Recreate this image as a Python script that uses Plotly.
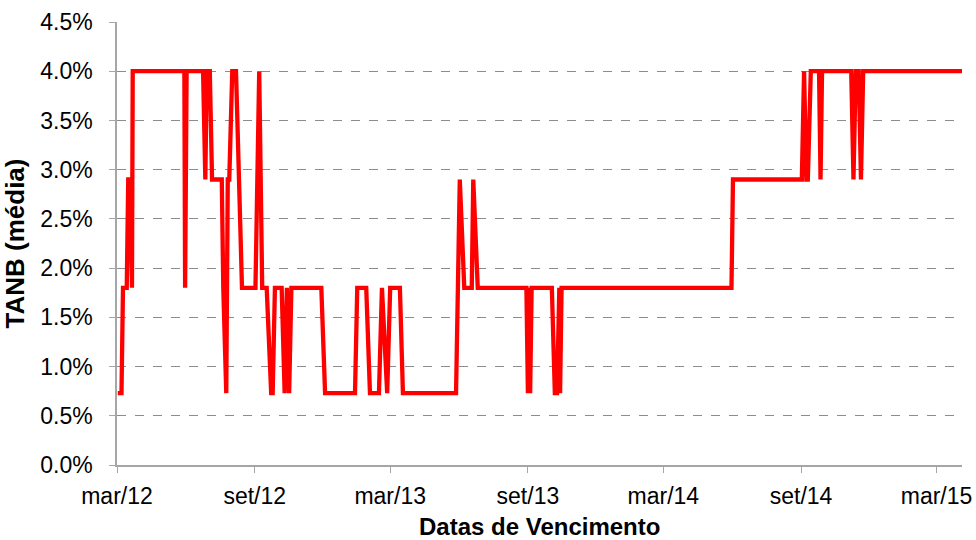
import plotly.graph_objects as go

dates = [
    "2012-03-02", "2012-03-07", "2012-03-09", "2012-03-14", "2012-03-16", "2012-03-18",
    "2012-03-21", "2012-03-22", "2012-05-30", "2012-05-31", "2012-06-02", "2012-06-24",
    "2012-06-27", "2012-06-29", "2012-07-03", "2012-07-06", "2012-07-19", "2012-07-21",
    "2012-07-25", "2012-07-27", "2012-07-29", "2012-08-02", "2012-08-07", "2012-08-10",
    "2012-08-11", "2012-08-15", "2012-09-02", "2012-09-07", "2012-09-11", "2012-09-17",
    "2012-09-23", "2012-09-25", "2012-09-28", "2012-10-07", "2012-10-11", "2012-10-14",
    "2012-10-17", "2012-10-20", "2012-11-29", "2012-12-04", "2013-01-13", "2013-01-16",
    "2013-01-28", "2013-02-02", "2013-02-14", "2013-02-18", "2013-02-25", "2013-03-01",
    "2013-03-14", "2013-03-18", "2013-05-28", "2013-06-02", "2013-06-08", "2013-06-18",
    "2013-06-20", "2013-06-26", "2013-08-30", "2013-09-01", "2013-09-03", "2013-09-04",
    "2013-09-06", "2013-10-03", "2013-10-07", "2013-10-10", "2013-10-13", "2013-10-14",
    "2013-10-16", "2014-05-31", "2014-06-02", "2014-09-02", "2014-09-05", "2014-09-08",
    "2014-09-10", "2014-09-14", "2014-09-25", "2014-09-27", "2014-09-29", "2014-11-07",
    "2014-11-10", "2014-11-13", "2014-11-17", "2014-11-20", "2014-11-23", "2015-04-04",
]
tanb = [
    0.73, 0.73, 1.8, 1.8, 2.9, 2.9,
    1.8, 4.0, 4.0, 1.8, 4.0, 4.0,
    2.9, 4.0, 4.0, 2.9, 2.9, 1.8,
    0.73, 2.9, 2.9, 4.0, 4.0, 2.9,
    2.9, 1.8, 1.8, 4.0, 1.8, 1.8,
    0.73, 0.73, 1.8, 1.8, 0.73, 1.8,
    0.73, 1.8, 1.8, 0.73, 0.73, 1.8,
    1.8, 0.73, 0.73, 1.8, 0.73, 1.8,
    1.8, 0.73, 0.73, 2.9, 1.8, 1.8,
    2.9, 1.8, 1.8, 0.73, 1.8, 0.73,
    1.8, 1.8, 0.73, 0.73, 1.8, 0.73,
    1.8, 1.8, 2.9, 2.9, 4.0, 2.9,
    2.9, 4.0, 4.0, 2.9, 4.0, 4.0,
    2.9, 4.0, 4.0, 2.9, 4.0, 4.0,
]

x_tick_dates = ["2012-03-01", "2012-09-01", "2013-03-01", "2013-09-01",
                "2014-03-01", "2014-09-01", "2015-03-01"]
x_tick_labels = ["mar/12", "set/12", "mar/13", "set/13", "mar/14", "set/14", "mar/15"]
y_ticks = [0.0, 0.5, 1.0, 1.5, 2.0, 2.5, 3.0, 3.5, 4.0, 4.5]
y_tick_labels = [f"{v:.1f}%" for v in y_ticks]
x_title = "Datas de Vencimento"
y_title = "TANB (média)"

fig = go.Figure()
fig.add_trace(go.Scatter(
    x=dates, y=tanb, mode="lines",
    line=dict(color="#FF0000", width=4.3),
    showlegend=False,
))

font_family = "Liberation Sans, Arial, sans-serif"
fig.update_layout(
    width=976, height=540,
    margin=dict(l=117, r=14, t=22, b=75, autoexpand=False),
    paper_bgcolor="white", plot_bgcolor="white",
    font=dict(family=font_family, size=23, color="#000000"),
)
fig.update_xaxes(
    range=["2012-03-01", "2015-04-04"],
    tickvals=x_tick_dates, ticktext=x_tick_labels,
    showgrid=False, zeroline=False,
    showline=True, linecolor="#A6A6A6", linewidth=1.5,
    ticks="outside", ticklen=6, tickcolor="#A6A6A6", tickwidth=1,
    tickfont=dict(size=23), ticklabelstandoff=4,
    automargin=False,
)
fig.update_yaxes(
    range=[0, 4.5],
    tickvals=y_ticks, ticktext=y_tick_labels,
    showgrid=True, gridcolor="#8C8C8C", griddash="dash", gridwidth=1,
    zeroline=False,
    showline=True, linecolor="#A6A6A6", linewidth=1.5,
    ticks="outside", ticklen=6, tickcolor="#A6A6A6", tickwidth=1,
    tickfont=dict(size=23), ticklabelstandoff=12,
    title=dict(text=f"<b>{y_title}</b>", font=dict(size=26), standoff=8),
    automargin=False,
)
fig.add_annotation(
    text=f"<b>{x_title}</b>", xref="paper", yref="paper",
    x=0.5, y=-0.139, xanchor="center", yanchor="middle",
    showarrow=False, font=dict(size=24),
)

fig.write_html(
    "out.html",
    config={"displayModeBar": False},
    post_script="document.body.style.margin='0';document.body.style.overflow='hidden';",
)
